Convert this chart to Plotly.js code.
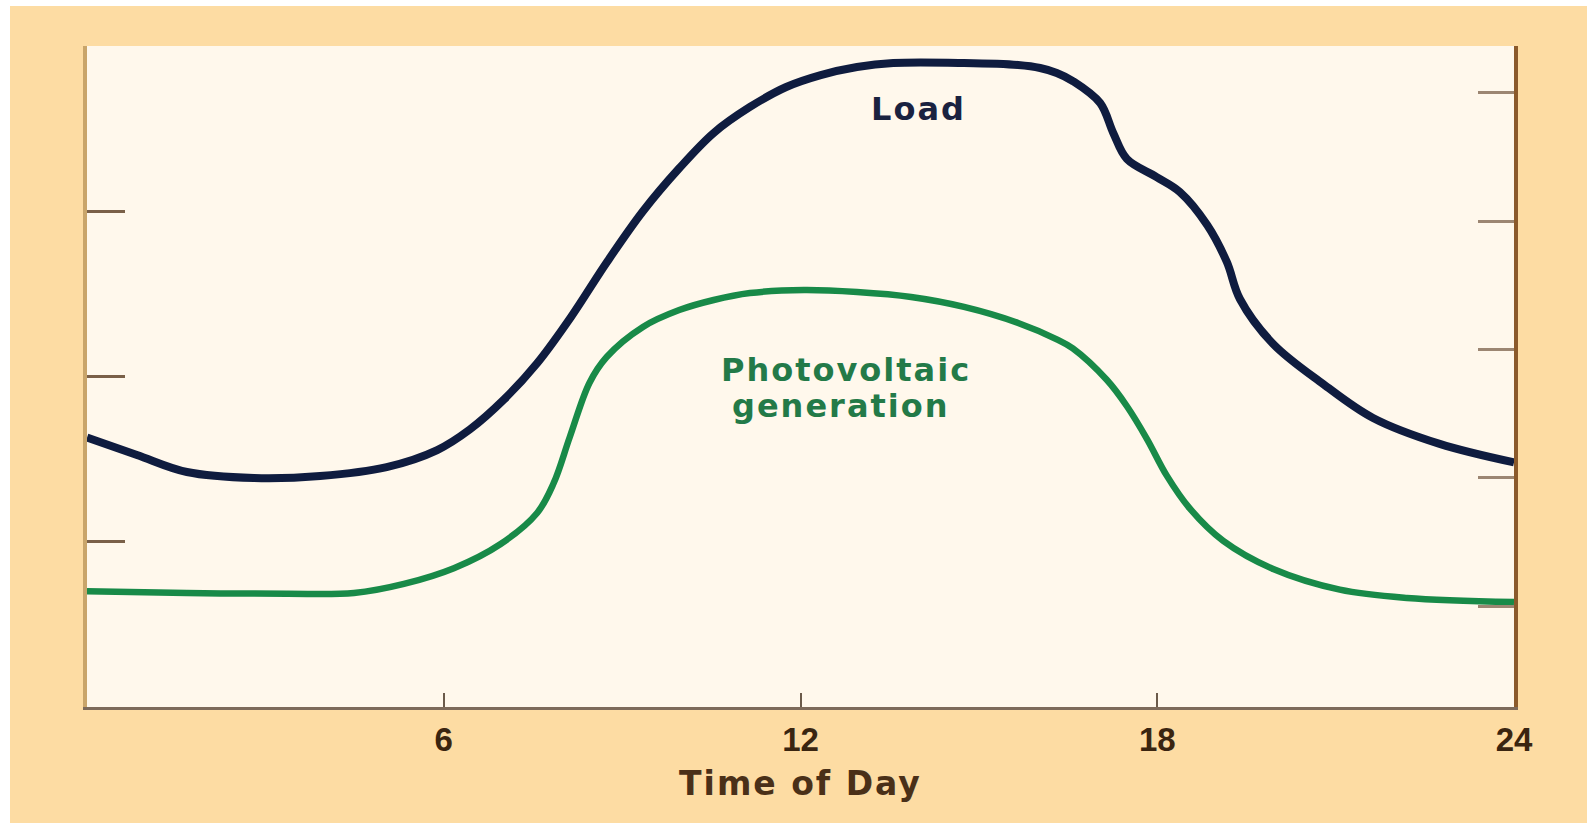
<!DOCTYPE html>
<html>
<head>
<meta charset="utf-8">
<script src="https://cdn.plot.ly/plotly-3.0.1.min.js"></script>
<style>
  html, body { margin: 0; padding: 0; background: #ffffff; width: 1587px; height: 823px; overflow: hidden; }
  #chart { position: absolute; left: 10px; top: 6px; width: 1577px; height: 817px; }
  .annotation-text { letter-spacing: 2px; }
  .g-xtitle text { letter-spacing: 2px; }
</style>
</head>
<body>
<div id="chart"></div>
<script>
// Hour of day
var loadHours = [0, 0.84, 1.68, 2.81, 3.92, 5.04, 5.89, 6.44, 7.01, 7.57, 8.14, 8.74, 9.35, 9.96, 10.54, 11.15, 11.76, 12.34, 12.95, 13.56, 14.75, 15.66, 16.03, 16.31, 16.58, 17.04, 17.26, 17.49, 17.99, 18.38, 18.84, 19.17, 19.39, 19.95, 20.79, 21.63, 22.75, 24];
var loadValues = [1.63, 1.525, 1.422, 1.386, 1.398, 1.452, 1.555, 1.68, 1.86, 2.08, 2.36, 2.69, 3.0, 3.26, 3.474, 3.631, 3.752, 3.824, 3.873, 3.897, 3.897, 3.885, 3.867, 3.837, 3.788, 3.655, 3.474, 3.316, 3.207, 3.117, 2.917, 2.693, 2.469, 2.197, 1.955, 1.749, 1.592, 1.48];

var pvHours = [0, 1.68, 3.36, 4.49, 5.33, 6.17, 6.95, 7.57, 7.85, 8.12, 8.45, 8.74, 9.35, 9.96, 10.54, 11.15, 12.06, 12.95, 13.86, 14.75, 15.66, 16.31, 16.58, 17.15, 17.49, 17.83, 18.16, 18.55, 19.11, 19.95, 21.07, 22.2, 24];
var pvValues = [0.7, 0.69, 0.685, 0.69, 0.745, 0.84, 0.985, 1.174, 1.356, 1.634, 1.961, 2.118, 2.3, 2.402, 2.463, 2.505, 2.523, 2.511, 2.481, 2.421, 2.324, 2.225, 2.17, 1.98, 1.82, 1.62, 1.40, 1.2, 1.005, 0.835, 0.71, 0.66, 0.635];

var xTickVals = [6, 12, 18, 24];
var xTickText = ["6", "12", "18", "24"];
var leftTickVals = [0, 1, 2, 3, 4];
var rightTickVals = [0, 1, 2, 3, 4];

var traces = [
  {
    x: loadHours, y: loadValues, type: 'scatter', mode: 'lines',
    line: { color: '#0f1c3f', width: 8, shape: 'spline', smoothing: 1 },
    hoverinfo: 'skip', showlegend: false
  },
  {
    x: pvHours, y: pvValues, type: 'scatter', mode: 'lines',
    line: { color: '#188a48', width: 6.5, shape: 'spline', smoothing: 1 },
    hoverinfo: 'skip', showlegend: false
  },
  {
    x: [null], y: [null], type: 'scatter', mode: 'lines', yaxis: 'y2',
    hoverinfo: 'skip', showlegend: false
  }
];

var layout = {
  width: 1577, height: 817,
  margin: { l: 77, r: 73, t: 40, b: 116 },
  paper_bgcolor: '#fddca3',
  plot_bgcolor: '#fff8ec',
  showlegend: false,
  xaxis: {
    range: [0, 24],
    tickvals: xTickVals, ticktext: xTickText,
    ticks: 'inside', ticklen: 14, tickwidth: 2, tickcolor: '#6b5a4a',
    showline: true, linecolor: '#7d6a5a', linewidth: 3,
    showgrid: false, zeroline: false,
    tickfont: { family: 'Liberation Sans, Arial, sans-serif', size: 33, color: '#3a2510', weight: 'bold' },
    ticklabelstandoff: 1,
    title: { text: 'Time of Day', standoff: 16,
      font: { family: 'DejaVu Sans, sans-serif', size: 33, color: '#4a3018', weight: 'bold' } }
  },
  yaxis: {
    range: [0, 4],
    tickvals: leftTickVals,
    ticks: 'inside', ticklen: 38, tickwidth: 3, tickcolor: '#7a6048',
    showticklabels: false,
    showline: true, linecolor: '#c9a56a', linewidth: 4,
    showgrid: false, zeroline: false
  },
  yaxis2: {
    overlaying: 'y', side: 'right',
    range: [-0.787, 4.366],
    tickvals: rightTickVals,
    ticks: 'inside', ticklen: 36, tickwidth: 3, tickcolor: '#9c8672',
    showticklabels: false,
    showline: true, linecolor: '#8b5a2b', linewidth: 4,
    showgrid: false, zeroline: false
  },
  annotations: [
    { x: 13.98, y: 3.62, xref: 'x', yref: 'y', text: 'Load', showarrow: false,
      xanchor: 'center', yanchor: 'middle',
      font: { family: 'DejaVu Sans, sans-serif', size: 32, color: '#1a2240', weight: 'bold' } },
    { x: 12.76, y: 2.04, xref: 'x', yref: 'y', text: 'Photovoltaic', showarrow: false,
      xanchor: 'center', yanchor: 'middle',
      font: { family: 'DejaVu Sans, sans-serif', size: 32, color: '#237a48', weight: 'bold' } },
    { x: 12.68, y: 1.82, xref: 'x', yref: 'y', text: 'generation', showarrow: false,
      xanchor: 'center', yanchor: 'middle',
      font: { family: 'DejaVu Sans, sans-serif', size: 32, color: '#237a48', weight: 'bold' } }
  ]
};

Plotly.newPlot('chart', traces, layout, { displayModeBar: false, staticPlot: true });
</script>
</body>
</html>
